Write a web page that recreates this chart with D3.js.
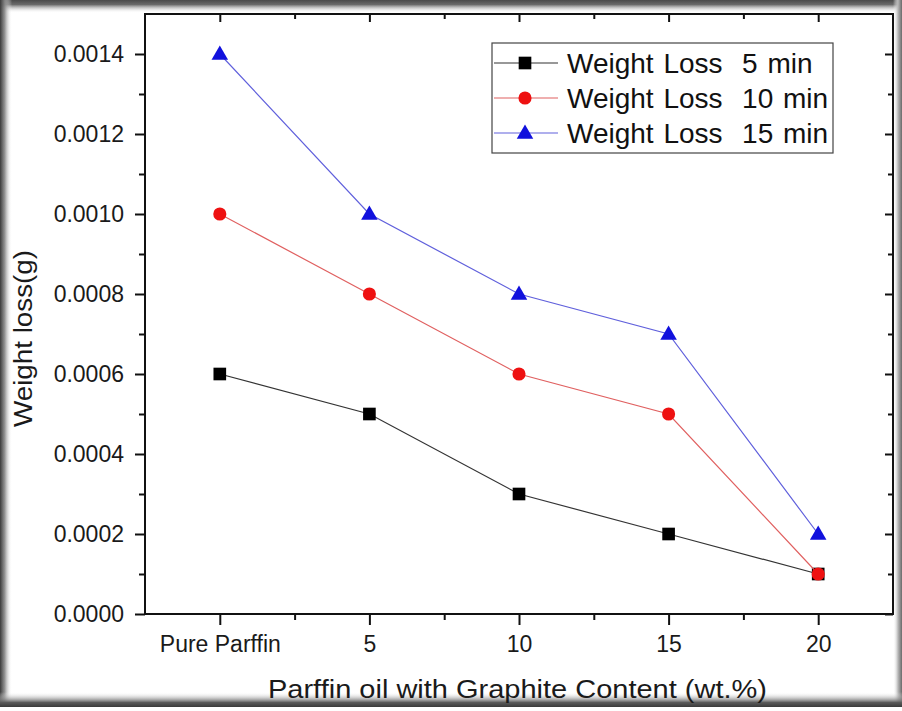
<!DOCTYPE html>
<html>
<head>
<meta charset="utf-8">
<script src="https://cdn.jsdelivr.net/npm/d3@7"></script>
<style>
  html, body { margin: 0; padding: 0; background: #fff; }
  svg { display: block; font-family: "Liberation Sans", Arial, sans-serif; }
  .legend text { white-space: pre; word-spacing: 2px; }
</style>
</head>
<body>
<svg id="chart" width="902" height="711"></svg>
<script>
// Weight loss of paraffin oil samples with graphite content
const categories = ["Pure Parffin", "5", "10", "15", "20"];
const loss5min  = [0.0006, 0.0005, 0.0003, 0.0002, 0.0001];
const loss10min = [0.0010, 0.0008, 0.0006, 0.0005, 0.0001];
const loss15min = [0.0014, 0.0010, 0.0008, 0.0007, 0.0002];
const seriesNames = ["Weight Loss  5 min", "Weight Loss  10 min", "Weight Loss  15 min"];
const yMajorTicks = [0, 0.0002, 0.0004, 0.0006, 0.0008, 0.0010, 0.0012, 0.0014];
const yMinorTicks = [0.0001, 0.0003, 0.0005, 0.0007, 0.0009, 0.0011, 0.0013];
const yDomain = [0, 0.0015];

const W = 902, H = 711;
const svg = d3.select("#chart");

// ---- photo-style frame shading ----
const defs = svg.append("defs");
function grad(id, x1, y1, x2, y2, stops) {
  const g = defs.append("linearGradient").attr("id", id)
    .attr("x1", x1).attr("y1", y1).attr("x2", x2).attr("y2", y2);
  stops.forEach(s => g.append("stop").attr("offset", s[0]).attr("stop-color", s[1]).attr("stop-opacity", s[2]));
}
grad("gTop", 0, 0, 0, 1, [[0, "#4a4a4a", 1], [0.35, "#6a6a6a", 1], [1, "#ffffff", 0]]);
grad("gLeft", 0, 0, 1, 0, [[0, "#3a3a3a", 1], [0.4, "#8a8a8a", 0.9], [1, "#ffffff", 0]]);
grad("gRight", 1, 0, 0, 0, [[0, "#6a6a6a", 1], [0.45, "#b8b8b8", 1], [1, "#ffffff", 0]]);
grad("gBottom", 0, 1, 0, 0, [[0, "#3a3a3a", 1], [0.3, "#5a5a5a", 1], [1, "#ffffff", 0]]);

svg.append("rect").attr("width", W).attr("height", H).attr("fill", "#fff");
svg.append("rect").attr("x", 0).attr("y", 0).attr("width", W).attr("height", 13).attr("fill", "url(#gTop)");
svg.append("rect").attr("x", 0).attr("y", 0).attr("width", 12).attr("height", 707).attr("fill", "url(#gLeft)");
svg.append("rect").attr("x", 893).attr("y", 0).attr("width", 9).attr("height", 707).attr("fill", "url(#gRight)");
svg.append("rect").attr("x", 0).attr("y", 692).attr("width", W).attr("height", 15).attr("fill", "url(#gBottom)");

// ---- plot area ----
const plot = { left: 145, right: 893, top: 14, bottom: 614 };

const x = d3.scalePoint().domain(categories).range([plot.left, plot.right]).padding(0.5);
const y = d3.scaleLinear().domain(yDomain).range([plot.bottom, plot.top]);

// minor x ticks halfway between categories
const step = x.step();
const xMinor = categories.slice(0, -1).map(c => x(c) + step / 2);
const xMinorScale = d3.scaleIdentity();

const axisColor = "#111";
function styleAxis(g) {
  g.select(".domain").remove();
  g.selectAll(".tick line").attr("stroke", axisColor).attr("stroke-width", 2);
  g.selectAll(".tick text").attr("fill", "#1a1a1a");
}

// left axis: major ticks with labels, outward
svg.append("g").attr("transform", `translate(${plot.left},0)`)
  .call(d3.axisLeft(y).tickValues(yMajorTicks).tickFormat(d3.format(".4f")).tickSize(10).tickPadding(11))
  .call(styleAxis)
  .call(g => g.selectAll(".tick text").attr("font-size", 23));
svg.append("g").attr("transform", `translate(${plot.left},0)`)
  .call(d3.axisLeft(y).tickValues(yMinorTicks).tickFormat("").tickSize(6))
  .call(styleAxis);

// right axis: inward ticks
svg.append("g").attr("transform", `translate(${plot.right},0)`)
  .call(d3.axisLeft(y).tickValues(yMajorTicks).tickFormat("").tickSize(8))
  .call(styleAxis);
svg.append("g").attr("transform", `translate(${plot.right},0)`)
  .call(d3.axisLeft(y).tickValues(yMinorTicks).tickFormat("").tickSize(5))
  .call(styleAxis);

// bottom axis: outward ticks with category labels
svg.append("g").attr("transform", `translate(0,${plot.bottom})`)
  .call(d3.axisBottom(x).tickSize(11).tickPadding(11))
  .call(styleAxis)
  .call(g => g.selectAll(".tick text").attr("font-size", 23));
svg.append("g").attr("transform", `translate(0,${plot.bottom})`)
  .call(d3.axisBottom(xMinorScale).tickValues(xMinor).tickFormat("").tickSize(6))
  .call(styleAxis);

// top axis: inward ticks
svg.append("g").attr("transform", `translate(0,${plot.top})`)
  .call(d3.axisBottom(x).tickFormat("").tickSize(8))
  .call(styleAxis);
svg.append("g").attr("transform", `translate(0,${plot.top})`)
  .call(d3.axisBottom(xMinorScale).tickValues(xMinor).tickFormat("").tickSize(5))
  .call(styleAxis);

// frame
svg.append("rect")
  .attr("x", plot.left).attr("y", plot.top)
  .attr("width", plot.right - plot.left).attr("height", plot.bottom - plot.top)
  .attr("fill", "none").attr("stroke", axisColor).attr("stroke-width", 2);

// axis titles (slightly wide lettering)
svg.append("text")
  .attr("x", 268).attr("y", 698)
  .attr("font-size", 25).attr("fill", "#1a1a1a")
  .attr("textLength", 499).attr("lengthAdjust", "spacingAndGlyphs")
  .text("Parffin oil with Graphite Content (wt.%)");
svg.append("text")
  .attr("transform", "translate(32,427) rotate(-90)")
  .attr("font-size", 25).attr("fill", "#1a1a1a")
  .attr("textLength", 177).attr("lengthAdjust", "spacingAndGlyphs")
  .text("Weight loss(g)");

// ---- series ----
const series = [
  { name: seriesNames[0], values: loss5min,  line: "#333333", fill: "#000000", symbol: d3.symbolSquare,   size: 160 },
  { name: seriesNames[1], values: loss10min, line: "#e06060", fill: "#ee1111", symbol: d3.symbolCircle,   size: 135 },
  { name: seriesNames[2], values: loss15min, line: "#6060dc", fill: "#1111dd", symbol: d3.symbolTriangle, size: 118 }
];

const line = d3.line().x(d => x(d.c)).y(d => y(d.v));

series.forEach(s => {
  const pts = categories.map((c, i) => ({ c, v: s.values[i] }));
  svg.append("path").datum(pts)
    .attr("d", line).attr("fill", "none")
    .attr("stroke", s.line).attr("stroke-width", 1.2);
  svg.append("g").selectAll("path").data(pts).join("path")
    .attr("transform", d => `translate(${x(d.c)},${y(d.v) + (s.symbol === d3.symbolTriangle ? 1 : 0)})`)
    .attr("d", d3.symbol(s.symbol, s.size))
    .attr("fill", s.fill);
});

// ---- legend ----
const legend = svg.append("g").attr("class", "legend");
legend.append("rect")
  .attr("x", 492).attr("y", 43).attr("width", 341).attr("height", 110)
  .attr("fill", "#fff").attr("stroke", "#444").attr("stroke-width", 1.2);
const rowY = [63, 98, 133];
series.forEach((s, i) => {
  const g = legend.append("g").attr("transform", `translate(0,${rowY[i]})`);
  g.append("line").attr("x1", 494).attr("x2", 558).attr("y1", 0).attr("y2", 0)
    .attr("stroke", s.line).attr("stroke-width", 1.2);
  g.append("path")
    .attr("transform", `translate(525,${s.symbol === d3.symbolTriangle ? 1 : 0})`)
    .attr("d", d3.symbol(s.symbol, s.size)).attr("fill", s.fill);
  g.append("text").attr("x", 567).attr("y", 10)
    .attr("font-size", 28).attr("fill", "#111")
    .text(s.name);
});
</script>
</body>
</html>
